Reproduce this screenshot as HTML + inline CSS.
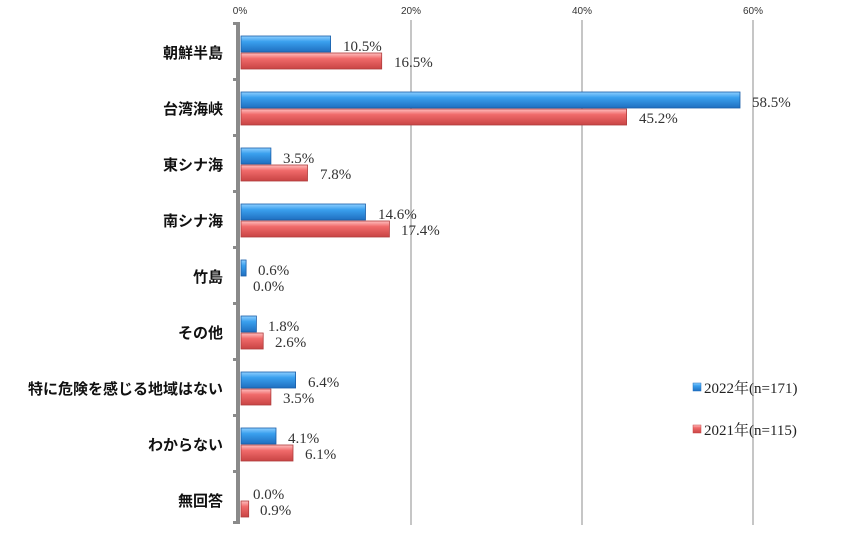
<!DOCTYPE html>
<html><head><meta charset="utf-8"><style>
html,body{margin:0;padding:0;background:#fff;width:860px;height:541px;overflow:hidden}
</style></head><body>
<svg width="860" height="541" xmlns="http://www.w3.org/2000/svg">
<defs>
<linearGradient id="gb" x1="0" y1="0" x2="0" y2="1">
<stop offset="0" stop-color="#8fd0ff"/><stop offset="0.35" stop-color="#3aa0ee"/><stop offset="1" stop-color="#1f6fc0"/></linearGradient>
<linearGradient id="gr" x1="0" y1="0" x2="0" y2="1">
<stop offset="0" stop-color="#ffc0c0"/><stop offset="0.35" stop-color="#f06a6a"/><stop offset="1" stop-color="#c84444"/></linearGradient>
</defs>
<g stroke="#a0a0a0" stroke-width="1.2">
<line x1="411" y1="20" x2="411" y2="525"/><line x1="582" y1="20" x2="582" y2="525"/><line x1="753" y1="20" x2="753" y2="525"/>
</g>
<g font-family="Liberation Sans, sans-serif" font-size="10" fill="#333" text-anchor="middle">
<text x="240" y="14">0%</text><text x="411" y="14">20%</text><text x="582" y="14">40%</text><text x="753" y="14">60%</text>
</g>
<rect x="236" y="22" width="4" height="502" fill="#8a8a8a"/>
<g fill="#8a8a8a">
<rect x="233" y="22" width="5" height="3"/><rect x="233" y="78" width="5" height="3"/><rect x="233" y="134" width="5" height="3"/><rect x="233" y="190" width="5" height="3"/><rect x="233" y="246" width="5" height="3"/><rect x="233" y="302" width="5" height="3"/><rect x="233" y="358" width="5" height="3"/><rect x="233" y="414" width="5" height="3"/><rect x="233" y="470" width="5" height="3"/><rect x="233" y="521" width="5" height="3"/>
</g>
<g stroke-width="0.8">
<rect x="241" y="36" width="89.6" height="16" fill="url(#gb)" stroke="#1a5ea8"/>
<rect x="241" y="53" width="140.7" height="16" fill="url(#gr)" stroke="#b03c3c"/>
<rect x="241" y="92" width="499" height="16" fill="url(#gb)" stroke="#1a5ea8"/>
<rect x="241" y="109" width="385.6" height="16" fill="url(#gr)" stroke="#b03c3c"/>
<rect x="241" y="148" width="29.9" height="16" fill="url(#gb)" stroke="#1a5ea8"/>
<rect x="241" y="165" width="66.5" height="16" fill="url(#gr)" stroke="#b03c3c"/>
<rect x="241" y="204" width="124.5" height="16" fill="url(#gb)" stroke="#1a5ea8"/>
<rect x="241" y="221" width="148.4" height="16" fill="url(#gr)" stroke="#b03c3c"/>
<rect x="241" y="260" width="5.1" height="16" fill="url(#gb)" stroke="#1a5ea8"/>
<rect x="241" y="316" width="15.4" height="16" fill="url(#gb)" stroke="#1a5ea8"/>
<rect x="241" y="333" width="22.2" height="16" fill="url(#gr)" stroke="#b03c3c"/>
<rect x="241" y="372" width="54.6" height="16" fill="url(#gb)" stroke="#1a5ea8"/>
<rect x="241" y="389" width="29.9" height="16" fill="url(#gr)" stroke="#b03c3c"/>
<rect x="241" y="428" width="35" height="16" fill="url(#gb)" stroke="#1a5ea8"/>
<rect x="241" y="445" width="52" height="16" fill="url(#gr)" stroke="#b03c3c"/>
<rect x="241" y="501" width="7.7" height="16" fill="url(#gr)" stroke="#b03c3c"/>
</g>
<g font-family="Liberation Serif, serif" font-size="15" fill="#333">
<text x="343" y="51">10.5%</text><text x="394" y="67">16.5%</text>
<text x="752" y="107">58.5%</text><text x="639" y="123">45.2%</text>
<text x="283" y="163">3.5%</text><text x="320" y="179">7.8%</text>
<text x="378" y="219">14.6%</text><text x="401" y="235">17.4%</text>
<text x="258" y="275">0.6%</text><text x="253" y="291">0.0%</text>
<text x="268" y="331">1.8%</text><text x="275" y="347">2.6%</text>
<text x="308" y="387">6.4%</text><text x="283" y="403">3.5%</text>
<text x="288" y="443">4.1%</text><text x="305" y="459">6.1%</text>
<text x="253" y="499">0.0%</text><text x="260" y="515">0.9%</text>
</g>
<g font-family="Liberation Sans, 'Noto Sans CJK JP', sans-serif" font-size="15" font-weight="bold" fill="#111" text-anchor="end">
<text x="223" y="58">朝鮮半島</text>
<text x="223" y="114">台湾海峡</text>
<text x="223" y="170">東シナ海</text>
<text x="223" y="226">南シナ海</text>
<text x="223" y="282">竹島</text>
<text x="223" y="338">その他</text>
<text x="223" y="394">特に危険を感じる地域はない</text>
<text x="223" y="450">わからない</text>
<text x="223" y="506">無回答</text>
</g>
<rect x="693" y="383" width="8" height="8" fill="url(#gb)" stroke="#1f6fc0" stroke-width="0.5"/>
<rect x="693" y="425" width="8" height="8" fill="url(#gr)" stroke="#c84444" stroke-width="0.5"/>
<g font-family="Liberation Serif, 'Noto Serif CJK SC', serif" font-size="15" fill="#222">
<text x="704" y="393">2022年(n=171)</text>
<text x="704" y="435">2021年(n=115)</text>
</g>
</svg>
</body></html>
